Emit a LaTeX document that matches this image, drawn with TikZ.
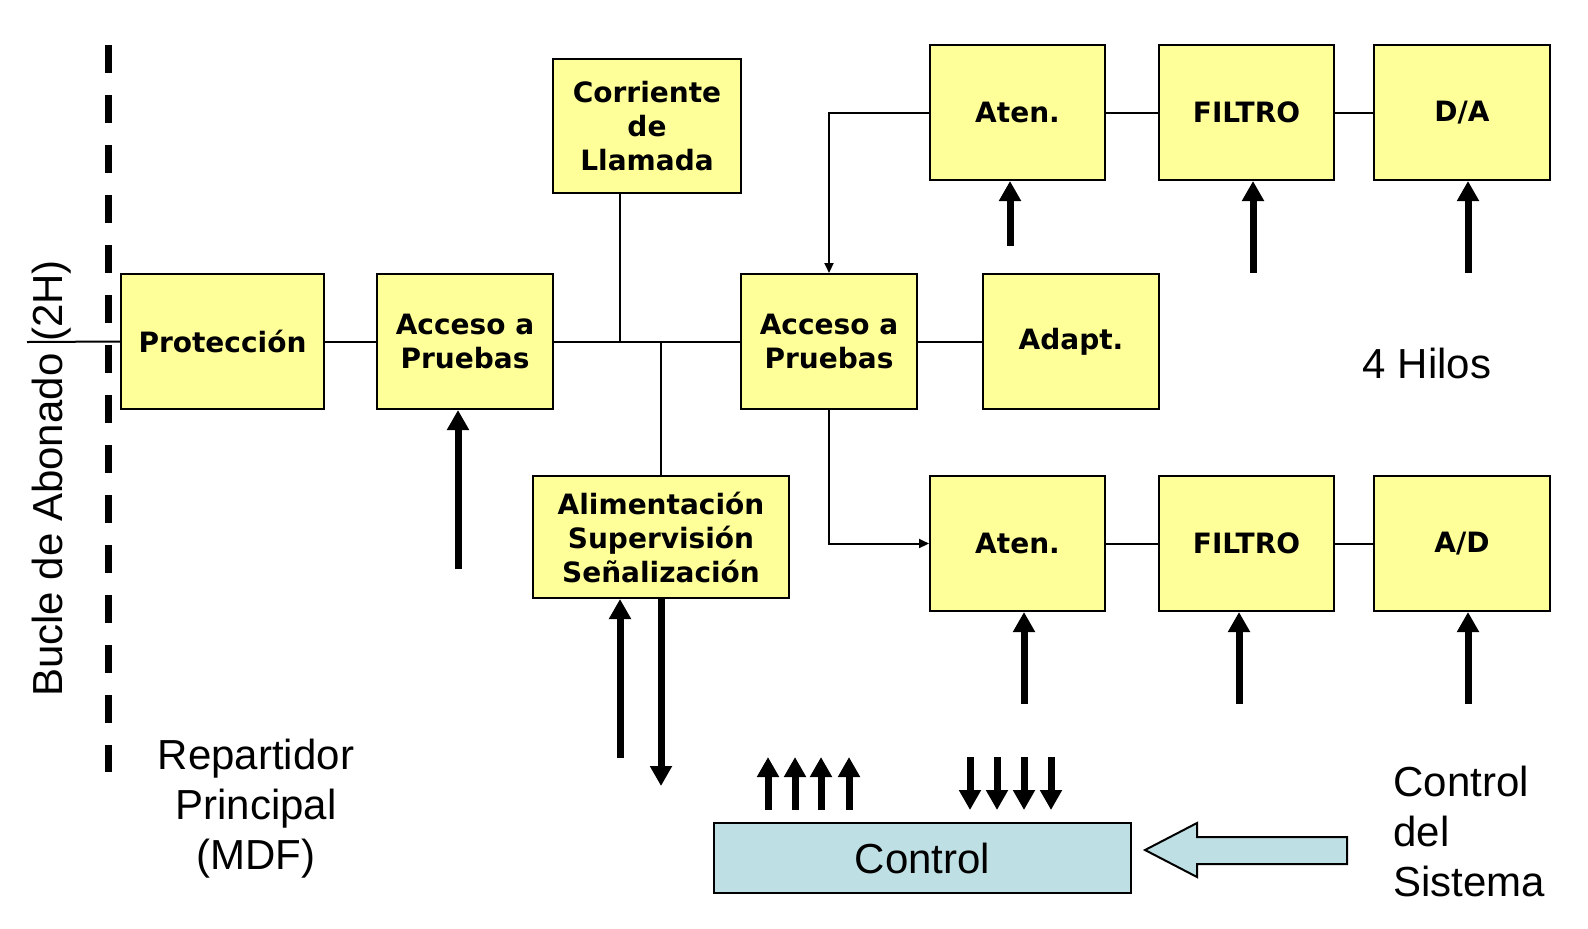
\documentclass[tikz,border=0pt]{standalone}
\usepackage{fontspec}
\setmainfont{Liberation Sans}
\newfontfamily\vbfont{DejaVu Sans}
\usetikzlibrary{arrows.meta,calc}
\definecolor{boxyellow}{HTML}{FFFF99}
\definecolor{ctrlblue}{HTML}{BEE0E4}
\begin{document}
\begin{tikzpicture}[x=0.5pt,y=-0.5pt,
  ybox/.style={draw, fill=boxyellow, line width=1pt, inner sep=0pt, align=center,
    font={\vbfont\bfseries\fontsize{14}{17}\selectfont}},
  sz/.style 2 args={minimum width=#1*0.5pt, minimum height=#2*0.5pt},
  conn/.style={line width=1pt},
  sarrow/.style={line width=1pt, -{Triangle[length=5pt,width=4.5pt]}},
  barrow/.style={line width=3.5pt, -{Triangle[length=10pt,width=10.5pt]}},
  lbl/.style={font={\fontsize{21}{25}\selectfont}, align=center, inner sep=0pt},
]
\useasboundingbox (0,0) rectangle (1588,928);

% dashed boundary
\draw[line width=3.5pt, dash pattern=on 14pt off 11pt] (108,45) -- (108,772);

% boxes
\node[ybox, sz={203}{135}] (prot) at (222.5,341.5) {Protección};
\node[ybox, sz={176}{135}] (acc1) at (465,341.5) {Acceso a\\Pruebas};
\node[ybox, sz={188}{134}] (corr) at (647,126) {Corriente\\de\\Llamada};
\node[ybox, sz={256}{122}] (alim) at (661,537) {Alimentación\\Supervisión\\Señalización};
\node[ybox, sz={176}{135}] (acc2) at (829,341.5) {Acceso a\\Pruebas};
\node[ybox, sz={176}{135}] (adapt) at (1071,341.5) {Adapt.};
\node[ybox, sz={175}{135}] (atenT) at (1017.5,112.5) {Aten.};
\node[ybox, sz={175}{135}] (filT) at (1246.5,112.5) {FILTRO};
\node[ybox, sz={176}{135}] (da) at (1462,112.5) {D/A};
\node[ybox, sz={175}{135}] (atenB) at (1017.5,543.5) {Aten.};
\node[ybox, sz={175}{135}] (filB) at (1246.5,543.5) {FILTRO};
\node[ybox, sz={176}{135}] (ad) at (1462,543.5) {A/D};
\node[draw, fill=ctrlblue, line width=1pt, inner sep=0pt, sz={417}{70},
  font={\fontsize{21}{25}\selectfont}] (ctrl) at (922.5,858) {Control};

% labels
\node[lbl, rotate=90] (bucle) at (52,478.5) {Bucle de Abonado (2H)};
\node[lbl] (rep) at (256,809) {Repartidor\\Principal\\(MDF)};
\node[lbl] (hilos) at (1427,363) {4 Hilos};
\node[lbl, align=left, anchor=west] (cds) at (1393,831) {Control\\del\\Sistema};

% thin connectors
\coordinate (lin) at (27,342);
\coordinate (j1) at (620,342);
\draw[conn] (lin) -- (prot.west);
\draw[conn] (prot.east) -- (acc1.west);
\draw[conn] (acc1.east) -- (acc2.west);
\draw[conn] (j1) -- (j1 |- corr.south);
\draw[conn] (alim.north) -- (alim.north |- acc1.east);
\draw[conn] (acc2.east) -- (adapt.west);
\draw[sarrow] (atenT.west) -| (acc2.north);
\draw[sarrow] (acc2.south) |- (atenB.west);
\draw[conn] (atenT.east) -- (filT.west);
\draw[conn] (filT.east) -- (da.west);
\draw[conn] (atenB.east) -- (filB.west);
\draw[conn] (filB.east) -- (ad.west);

% thick arrows
\coordinate (t1) at (458,569);
\coordinate (t2) at (1010,246);
\coordinate (t3) at (1253,273);
\coordinate (t4) at (1468,273);
\coordinate (t5) at (1024,704);
\coordinate (t6) at (1239,704);
\coordinate (t7) at (1468,704);
\coordinate (t8) at (620,758);
\coordinate (t9) at (661,786);
\draw[barrow] (t1) -- (t1 |- acc1.south);
\draw[barrow] (t2) -- (t2 |- atenT.south);
\draw[barrow] (t3) -- (t3 |- filT.south);
\draw[barrow] (t4) -- (t4 |- da.south);
\draw[barrow] (t5) -- (t5 |- atenB.south);
\draw[barrow] (t6) -- (t6 |- filB.south);
\draw[barrow] (t7) -- (t7 |- ad.south);
\draw[barrow] (t8) -- (t8 |- alim.south);
\draw[barrow] (alim.south -| t9) -- (t9);

% control arrows
\foreach \x [count=\i] in {768,795,821,849} {
  \coordinate (ub\i) at (\x,810);
  \coordinate (ut\i) at (\x,757);
  \draw[barrow] (ub\i) -- (ut\i);
}
\foreach \x [count=\i] in {970,997,1024,1051} {
  \coordinate (dt\i) at (\x,757);
  \coordinate (db\i) at (\x,810);
  \draw[barrow] (dt\i) -- (db\i);
}

% hollow arrow from system control
\draw[fill=ctrlblue, line width=1pt, line join=miter]
  (1347,837) -- (1197,837) -- (1197,823) -- (1145,850) -- (1197,877) -- (1197,864) -- (1347,864) -- cycle;
\end{tikzpicture}
\end{document}
